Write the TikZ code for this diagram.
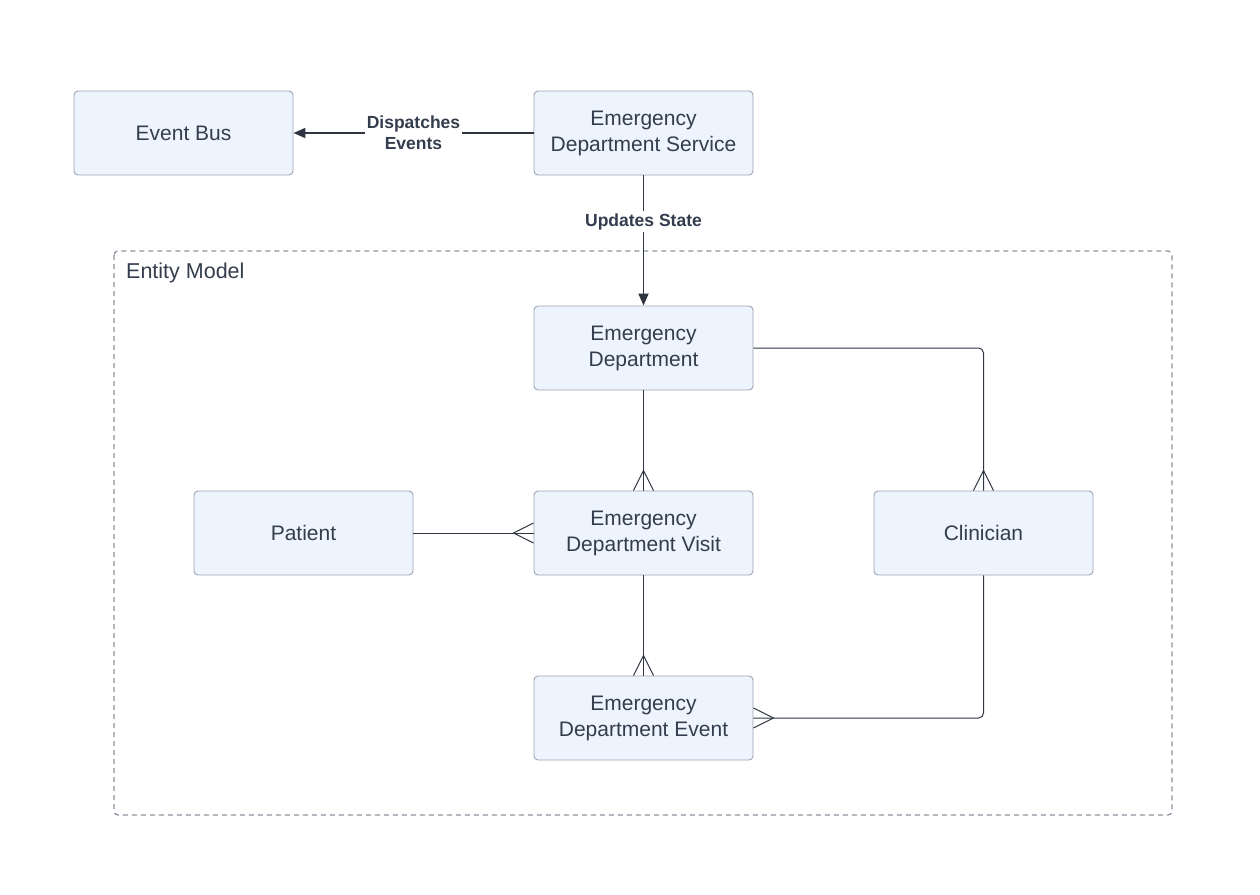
\documentclass[tikz,border=0pt]{standalone}
\usepackage{fontspec}
\setmainfont{Liberation Sans}
\usetikzlibrary{arrows.meta}
\definecolor{boxfill}{HTML}{EEF4FD}
\definecolor{boxdraw}{HTML}{9AA4B2}
\definecolor{txt}{HTML}{333D4D}
\definecolor{lnk}{HTML}{2E3440}
\begin{document}
\begin{tikzpicture}[x=1pt,y=-1pt,
  entity/.style={draw=boxdraw,fill=boxfill,rounded corners=4pt,line width=0.9pt,
    minimum width=219pt,minimum height=84pt,text=txt,align=center,
    font=\fontsize{21}{26}\selectfont,inner sep=0pt},
  lbl/.style={fill=white,text=txt,align=center,font=\bfseries\fontsize{17.5}{21}\selectfont,inner sep=2pt},
  flow/.style={draw=lnk,line width=1.8pt,-{Triangle[length=12pt,width=10pt]}},
  rel/.style={draw=lnk,line width=1pt},
  crow/.style={draw=lnk,line width=1pt}]
\useasboundingbox (0,0) rectangle (1260,894);
% container
\draw[draw=boxdraw!90!black,dashed,dash pattern=on 5pt off 4pt,line width=1.3pt,rounded corners=4pt] (114,251) rectangle (1172,815);
\node[anchor=west,text=txt,font=\fontsize{21.5}{24}\selectfont,inner sep=0pt] (title) at (126,273) {Entity Model};
% nodes
\node[entity] (bus) at (183.5,133) {Event Bus};
\node[entity] (svc) at (643.5,133) {Emergency\\Department Service};
\node[entity] (ed) at (643.5,348) {Emergency\\Department};
\node[entity] (pat) at (303.5,533) {Patient};
\node[entity] (visit) at (643.5,533) {Emergency\\Department Visit};
\node[entity] (clin) at (983.5,533) {Clinician};
\node[entity] (ev) at (643.5,718) {Emergency\\Department Event};
% flows
\draw[flow] (svc.west) -- node[lbl,pos=0.5] (dl) {Dispatches\\Events} (bus.east);
\draw[flow] (svc.south) -- node[lbl,pos=0.355] (ul) {Updates State} (ed.north);
% relations
\coordinate (c1) at (983.5,348);
\draw[rel,rounded corners=5pt] (ed.east) -- (c1) -- (clin.north);
\draw[rel] (ed.south) -- (visit.north);
\draw[rel] (pat.east) -- (visit.west);
\draw[rel] (visit.south) -- (ev.north);
\coordinate (c2) at (983.5,718);
\draw[rel,rounded corners=5pt] (clin.south) -- (c2) -- (ev.east);
% crow's feet
\draw[crow] ([xshift=-10pt]clin.north) -- ([yshift=20pt]clin.north) -- ([xshift=10pt]clin.north);
\draw[crow] ([xshift=-10pt]visit.north) -- ([yshift=20pt]visit.north) -- ([xshift=10pt]visit.north);
\draw[crow] ([xshift=-10pt]ev.north) -- ([yshift=20pt]ev.north) -- ([xshift=10pt]ev.north);
\draw[crow] ([yshift=10pt]visit.west) -- ([xshift=-20pt]visit.west) -- ([yshift=-10pt]visit.west);
\draw[crow] ([yshift=10pt]ev.east) -- ([xshift=20pt]ev.east) -- ([yshift=-10pt]ev.east);
\end{tikzpicture}
\end{document}
